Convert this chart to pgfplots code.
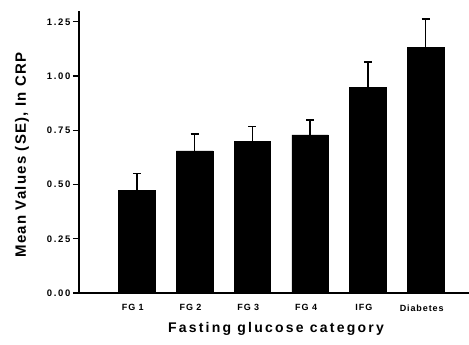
\documentclass[border=0pt]{standalone}
\usepackage{pgfplots}
\pgfplotsset{compat=1.18}
\usepackage{fontspec}
\setmainfont{Liberation Sans}
\newfontfamily\ytickfont[LetterSpace=18]{Liberation Sans}
\newfontfamily\xtickfont[LetterSpace=10]{Liberation Sans}
\newfontfamily\xlabfont[LetterSpace=16]{Liberation Sans}
\newfontfamily\ylabfont[LetterSpace=8]{Liberation Sans}
\begin{document}
\begin{tikzpicture}
\useasboundingbox (-79pt,-52pt) rectangle (390pt,293pt);
\begin{axis}[
  scale only axis,
  width=390pt, height=282pt,
  xmin=0, xmax=6.75, ymin=0, ymax=1.30,
  axis x line=bottom, axis y line=left,
  axis line style={-, line width=1.6pt},
  xtick={1,2,3,4,5,6},
  xticklabels={FG 1,FG 2,FG 3,FG 4,IFG,Diabetes},
  x tick style={draw=none},
  ytick={0,0.25,0.5,0.75,1.0,1.25},
  y tick style={line width=1.2pt, black},
  tick align=outside, major tick length=6pt,
  /pgf/number format/assume math mode=true,
  /pgf/number format/.cd, fixed, fixed zerofill, precision=2,
  /pgfplots/.cd,
  yticklabel style={font=\ytickfont\bfseries\fontsize{9.5}{10}\selectfont, xshift=1pt},
  xticklabel style={font=\xtickfont\bfseries\fontsize{9}{10}\selectfont, yshift=-2pt, xshift=-4pt},
  xlabel={Fasting glucose category},
  ylabel={Mean Values (SE), In CRP},
  every axis x label/.style={at={(axis description cs:0.505,-0.128)}, anchor=center, font=\xlabfont\bfseries\fontsize{14}{15}\selectfont},
  every axis y label/.style={at={(axis description cs:-0.146,0.489)}, anchor=center, rotate=90, font=\ylabfont\bfseries\fontsize{15}{16}\selectfont},
]
\addplot[ybar, bar width=36.5pt, fill=black, draw=black,
  error bars/.cd, y dir=plus, y explicit,
  error bar style={line width=1.5pt, black},
  error mark options={rotate=90, mark size=4pt, line width=1.5pt, black}]
  table[x=x, y=y, y error=e] {
x y e
1 0.472 0.078
2 0.655 0.078
3 0.698 0.069
4 0.729 0.069
5 0.947 0.117
6 1.131 0.131
};
\end{axis}
\end{tikzpicture}
\end{document}
